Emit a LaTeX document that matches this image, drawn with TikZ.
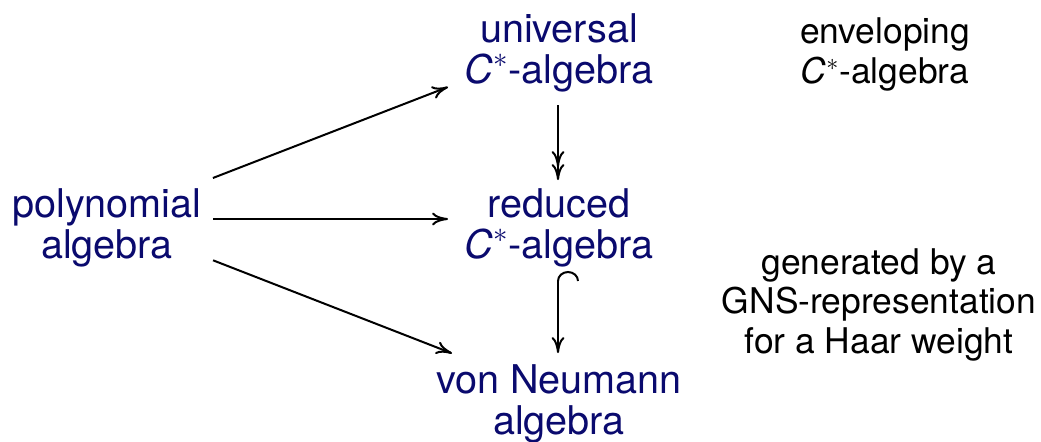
\documentclass[tikz,border=0pt]{standalone}
\usepackage{fontspec}
\setmainfont{TeX Gyre Heros}
\usepackage{tikz}
\usetikzlibrary{arrows.meta}
\definecolor{algblue}{RGB}{10,10,110}
\newcommand{\Cst}{\textit{C}$^{*}$}

\begin{document}
\begin{tikzpicture}[
    x=0.5pt, y=-0.5pt, line width=1pt,
    alg/.style={align=center, anchor=base, inner sep=0pt, text=algblue,
      font=\fontsize{19.8}{20.3}\selectfont},
    note/.style={align=center, anchor=base, inner sep=0pt,
      font=\fontsize{17.7}{19.7}\selectfont},
    >={Computer Modern Rightarrow[length=8pt,width=6.5pt]}]
    \useasboundingbox (0,0) rectangle (1041,441);
    % nodes sit on the baseline of their last line
    \node[alg] (poly) at (107,258) {polynomial\\algebra};
    \node[alg] (univ) at (559,83) {universal\\\Cst-algebra};
    \node[alg] (red) at (559,258) {reduced\\\Cst-algebra};
    \node[alg] (vN) at (559,434) {von Neumann\\algebra};
    \node[note] (env) at (885,83) {enveloping\\\Cst-algebra};
    \node[note] (gns) at (879,353) {generated by a\\GNS-representation\\for a Haar weight};
    \draw[->, shorten <=56.8pt, shorten >=59.5pt] ([yshift=19.5pt]poly.base) -- ([yshift=19.5pt]univ.base);
    \draw[->, shorten <=53pt, shorten >=55.5pt] ([yshift=19.5pt]poly.base) -- ([yshift=19.5pt]red.base);
    \draw[->, shorten <=56.9pt, shorten >=57.4pt] ([yshift=19.5pt]poly.base) -- ([yshift=19.5pt]vN.base);
    \draw[-{Computer Modern Rightarrow[length=8pt,width=6.5pt,sep=-1.5pt]Computer Modern Rightarrow[length=8pt,width=6.5pt]},
      shorten <=30.5pt, shorten >=19.5pt]
      ([xshift=-0.5pt,yshift=19.5pt]univ.base) -- ([xshift=-0.5pt,yshift=19.5pt]red.base);
    \draw[{Hooks[right,width=21pt,length=5pt]}->, shorten <=26pt, shorten >=21pt]
      ([xshift=-0.5pt,yshift=19.5pt]red.base) -- ([xshift=-0.5pt,yshift=19.5pt]vN.base);
  \end{tikzpicture}
\end{document}
